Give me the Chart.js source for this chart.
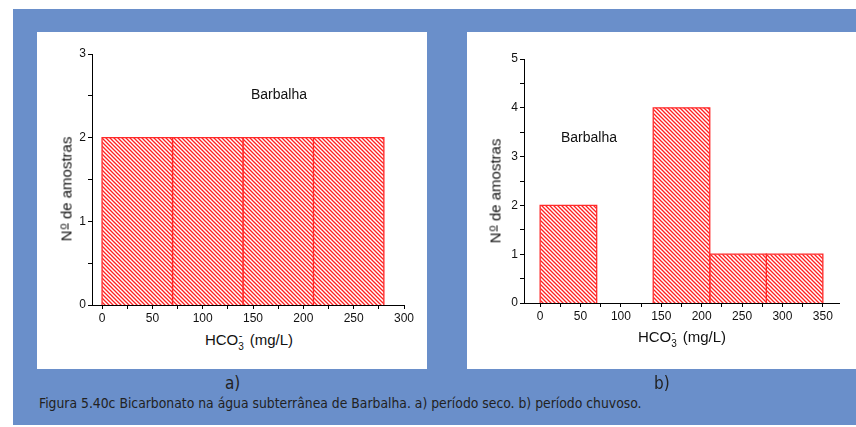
<!DOCTYPE html>
<html>
<head>
<meta charset="utf-8">
<script src="https://cdn.jsdelivr.net/npm/chart.js@4.4.1/dist/chart.umd.min.js"></script>
<style>
  html, body { margin: 0; padding: 0; background: #fff; }
  #page { position: relative; width: 856px; height: 427px; overflow: hidden; background: #fff; }
  #bg { position: absolute; left: 13px; top: 9px; width: 843px; height: 416px; background: #6a8fca; }
  .panel { position: absolute; background: #fff; }
  canvas { position: absolute; }
  .txt { position: absolute; font-family: "Liberation Sans", Arial, sans-serif; color: #111; white-space: nowrap; line-height: 16px; }
  .ytitle { font-size: 15px; transform: translate(-50%, -50%) rotate(-90deg); }
  .xtitle { font-size: 15px; transform: translate(-50%, -50%); }
  .sup-o { font-size: 11px; position: relative; top: -5px; text-decoration: underline; margin-left: 1px; }
  .sub3 { font-size: 10px; position: relative; top: 5px; }
  .supm { font-size: 11px; position: relative; top: -6px; margin-left: -5px; margin-right: 3px; }
  .cap { position: absolute; font-family: "DejaVu Sans Condensed", sans-serif; color: #222; white-space: nowrap; }
</style>
</head>
<body>
<div id="page">
  <div id="bg"></div>
  <div class="panel" style="left:37px;top:32px;width:390px;height:337px;"></div>
  <div class="panel" style="left:467px;top:32px;width:389px;height:337px;"></div>

  <canvas id="chartA" width="358" height="285" style="left:60px;top:44px;"></canvas>
  <canvas id="chartB" width="361" height="279" style="left:492px;top:48px;"></canvas>

  <div class="txt" style="left:251px;top:86px;font-size:14px;">Barbalha</div>
  <div class="txt" style="left:561px;top:129px;font-size:14px;">Barbalha</div>

  <div class="txt ytitle" style="left:67px;top:189px;">N<span class="sup-o">o</span> de amostras</div>
  <div class="txt ytitle" style="left:496px;top:191px;">N<span class="sup-o">o</span> de amostras</div>

  <div class="txt xtitle" style="left:249px;top:341px;">HCO<span class="sub3">3</span><span class="supm">-</span> (mg/L)</div>
  <div class="txt xtitle" style="left:682px;top:338px;">HCO<span class="sub3">3</span><span class="supm">-</span> (mg/L)</div>

  <div class="cap" style="left:225px;top:373px;font-size:17px;">a)</div>
  <div class="cap" style="left:654px;top:373px;font-size:17px;">b)</div>
  <div class="cap" style="left:39px;top:395px;font-size:13.8px;">Figura 5.40c Bicarbonato na água subterrânea de Barbalha. a) período seco. b) período chuvoso.</div>
</div>

<script>
// histogram bins (mg/L) and counts
const binEdgesA = [0, 70, 140, 210, 280];
const countsA = [2, 2, 2, 2];
const binEdgesB = [0, 70, 140, 210, 280, 350];
const countsB = [2, 0, 4, 1, 1];

// axis ticks
const xTicksA = [0, 50, 100, 150, 200, 250, 300];
const yTicksA = [0, 1, 2, 3];
const xTicksB = [0, 50, 100, 150, 200, 250, 300, 350];
const yTicksB = [0, 1, 2, 3, 4, 5];

const FONT = "'Liberation Sans', Arial, sans-serif";

function hatch() {
  const c = document.createElement('canvas');
  c.width = 4; c.height = 4;
  const g = c.getContext('2d');
  g.fillStyle = '#fff';
  g.fillRect(0, 0, 4, 4);
  g.strokeStyle = '#ff2020';
  g.lineWidth = 1.3;
  g.beginPath();
  g.moveTo(-1, -1); g.lineTo(5, 5);
  g.moveTo(-1, 3); g.lineTo(1, 5);
  g.moveTo(3, -1); g.lineTo(5, 1);
  g.stroke();
  return g.createPattern(c, 'repeat');
}

// add a minor tick halfway between majors
function withMinor(majors) {
  const out = [];
  majors.forEach((v, i) => {
    out.push(v);
    if (i < majors.length - 1) out.push((v + majors[i + 1]) / 2);
  });
  return out;
}

function binDatasets(edges, counts) {
  const pattern = hatch();
  const sets = [];
  for (let i = 0; i < counts.length; i++) {
    if (!counts[i]) continue;
    sets.push({
      data: [
        { x: edges[i], y: 0 },
        { x: edges[i], y: counts[i] },
        { x: edges[i + 1], y: counts[i] },
        { x: edges[i + 1], y: 0 }
      ],
      fill: 'origin',
      backgroundColor: pattern,
      borderColor: '#ff2a2a',
      borderWidth: 1.3,
      pointRadius: 0,
      tension: 0
    });
  }
  return sets;
}

function makeChart(id, edges, counts, xTicks, yTicks, xMin, xMax, yMax, padTop) {
  const xAll = withMinor(xTicks);
  const yAll = withMinor(yTicks);
  return new Chart(document.getElementById(id), {
    type: 'line',
    data: { datasets: binDatasets(edges, counts) },
    options: {
      responsive: false,
      animation: false,
      devicePixelRatio: 1,
      layout: { padding: { top: padTop, right: 14, left: 0, bottom: 0 } },
      plugins: { legend: { display: false }, tooltip: { enabled: false } },
      scales: {
        x: {
          type: 'linear', min: xMin, max: xMax, z: 1,
          afterBuildTicks: s => { s.ticks = xAll.map(v => ({ value: v })); },
          afterFit: s => { s.height = 24; s.paddingLeft = 0; s.paddingRight = 0; },
          ticks: {
            autoSkip: false, maxRotation: 0, padding: 2, color: '#111',
            font: { family: FONT, size: 12 },
            callback: v => xTicks.includes(v) ? String(v) : ''
          },
          grid: { drawOnChartArea: false, drawTicks: true, tickLength: 4, color: '#000', tickColor: '#000' },
          border: { display: true, color: '#000', width: 1 }
        },
        y: {
          type: 'linear', min: 0, max: yMax,
          afterBuildTicks: s => { s.ticks = yAll.map(v => ({ value: v })); },
          afterFit: s => { s.width = 32; s.paddingTop = 0; s.paddingBottom = 0; },
          ticks: {
            autoSkip: false, padding: 2, color: '#111',
            font: { family: FONT, size: 12 },
            callback: v => yTicks.includes(v) ? String(v) : ''
          },
          grid: { drawOnChartArea: false, drawTicks: true, tickLength: 4, color: '#000', tickColor: '#000' },
          border: { display: true, color: '#000', width: 1 }
        }
      }
    }
  });
}

makeChart('chartA', binEdgesA, countsA, xTicksA, yTicksA, -10, 300, 3, 10);
makeChart('chartB', binEdgesB, countsB, xTicksB, yTicksB, -20, 370, 5, 11);
</script>
</body>
</html>
